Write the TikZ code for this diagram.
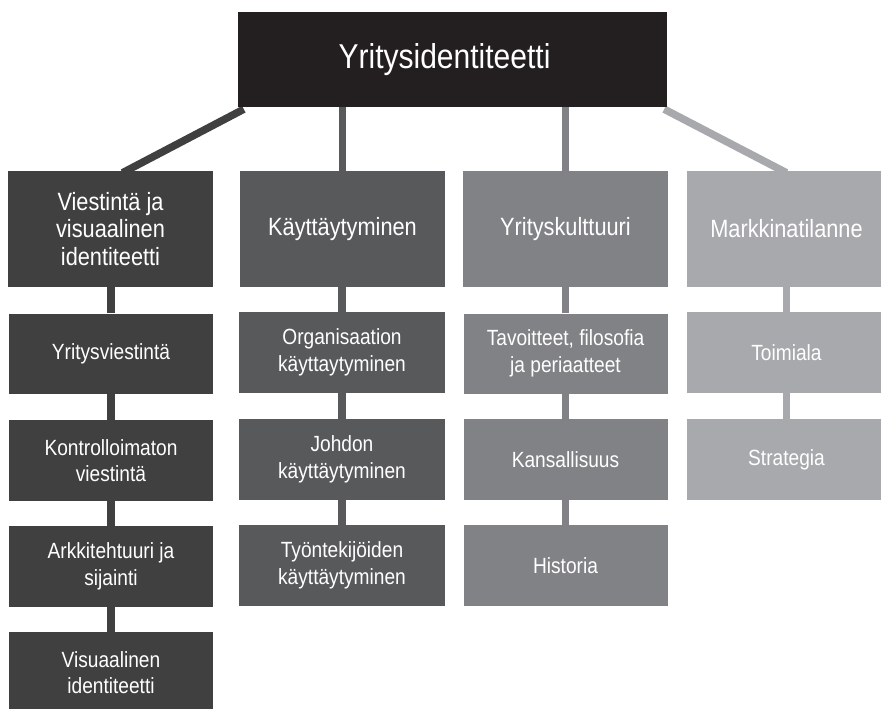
\documentclass[tikz,border=0pt]{standalone}
\usepackage{fontspec}
\setmainfont{Liberation Sans}[FakeStretch=0.87]
\usetikzlibrary{backgrounds}
\definecolor{ctop}{HTML}{231F20}
\definecolor{cone}{HTML}{404041}
\definecolor{ctwo}{HTML}{58595B}
\definecolor{cthree}{HTML}{808285}
\definecolor{cfour}{HTML}{A7A9AC}
\tikzset{
  box/.style={rectangle, inner sep=0pt, align=center, text=white},
  topbox/.style={box, fill=ctop, minimum width=429pt, minimum height=95pt,
    font=\fontsize{34.5}{38}\selectfont},
  headbox/.style={box, minimum height=116pt, font=\fontsize{25}{27.5}\selectfont},
  subbox/.style={box, minimum height=81pt, font=\fontsize{22}{26.5}\selectfont},
  link/.style={line width=7.5pt},
}
\begin{document}
\begin{tikzpicture}[x=1pt, y=-1pt]
\useasboundingbox (0,0) rectangle (881,709);
\clip (0,0) rectangle (881,709);
% top
\node[topbox] (top) at (452.5,59.5) {Yritysidentiteetti\hspace*{16pt}};
% level 1
\node[headbox, fill=cone, minimum width=205pt] (c1) at (110.5,229) {Viestintä ja\\visuaalinen\\identiteetti};
\node[headbox, fill=ctwo, minimum width=205pt] (c2) at (342.5,229) {Käyttäytyminen};
\node[headbox, fill=cthree, minimum width=205pt] (c3) at (565.5,229) {Yrityskulttuuri};
\node[headbox, fill=cfour, minimum width=199pt] (c4) at (786.5,229) {Markkinatilanne};
% column 1
\node[subbox, fill=cone, minimum width=204pt, minimum height=80pt] (a1) at (111,353.5) {Yritysviestintä};
\node[subbox, fill=cone, minimum width=204pt] (a2) at (111,460.5) {Kontrolloimaton\\viestintä};
\node[subbox, fill=cone, minimum width=204pt] (a3) at (111,566.5) {Arkkitehtuuri ja\\sijainti};
\node[subbox, fill=cone, minimum width=204pt] (a4) at (111,672.5) {Visuaalinen\\identiteetti};
% column 2
\node[subbox, fill=ctwo, minimum width=206pt] (b1) at (342,352.5) {Organisaation\\käyttaytyminen};
\node[subbox, fill=ctwo, minimum width=206pt] (b2) at (342,459.5) {Johdon\\käyttäytyminen};
\node[subbox, fill=ctwo, minimum width=206pt] (b3) at (342,565.5) {Työntekijöiden\\käyttäytyminen};
% column 3
\node[subbox, fill=cthree, minimum width=204pt, minimum height=80pt] (d1) at (565.5,353.5) {Tavoitteet, filosofia\\ja periaatteet};
\node[subbox, fill=cthree, minimum width=204pt] (d2) at (565.5,459.5) {Kansallisuus};
\node[subbox, fill=cthree, minimum width=204pt] (d3) at (565.5,565.5) {Historia};
% column 4
\node[subbox, fill=cfour, minimum width=199pt] (e1) at (786.5,352.5) {Toimiala};
\node[subbox, fill=cfour, minimum width=199pt] (e2) at (786.5,459.5) {Strategia};
% connectors
\begin{scope}[on background layer]
\draw[link, cone] ([xshift=6pt,yshift=-2pt]top.south west) -- ([xshift=12pt,yshift=-2pt]c1.north);
\draw[link, ctwo] (c2.north |- top.south) -- (c2.north);
\draw[link, cthree] (c3.north |- top.south) -- (c3.north);
\draw[link, cfour] ([xshift=-3pt,yshift=-2pt]top.south east) -- ([yshift=-2pt]c4.north);
\draw[link, cone] (c1.south -| a1.north) -- (a1.north);
\draw[link, cone] (a1) -- (a2);
\draw[link, cone] (a2) -- (a3);
\draw[link, cone] (a3) -- (a4);
\draw[link, ctwo] (c2.south -| b1.north) -- (b1.north);
\draw[link, ctwo] (b1) -- (b2);
\draw[link, ctwo] (b2) -- (b3);
\draw[link, cthree] (c3) -- (d1);
\draw[link, cthree] (d1) -- (d2);
\draw[link, cthree] (d2) -- (d3);
\draw[link, cfour] (c4) -- (e1);
\draw[link, cfour] (e1) -- (e2);
\end{scope}
\end{tikzpicture}
\end{document}
